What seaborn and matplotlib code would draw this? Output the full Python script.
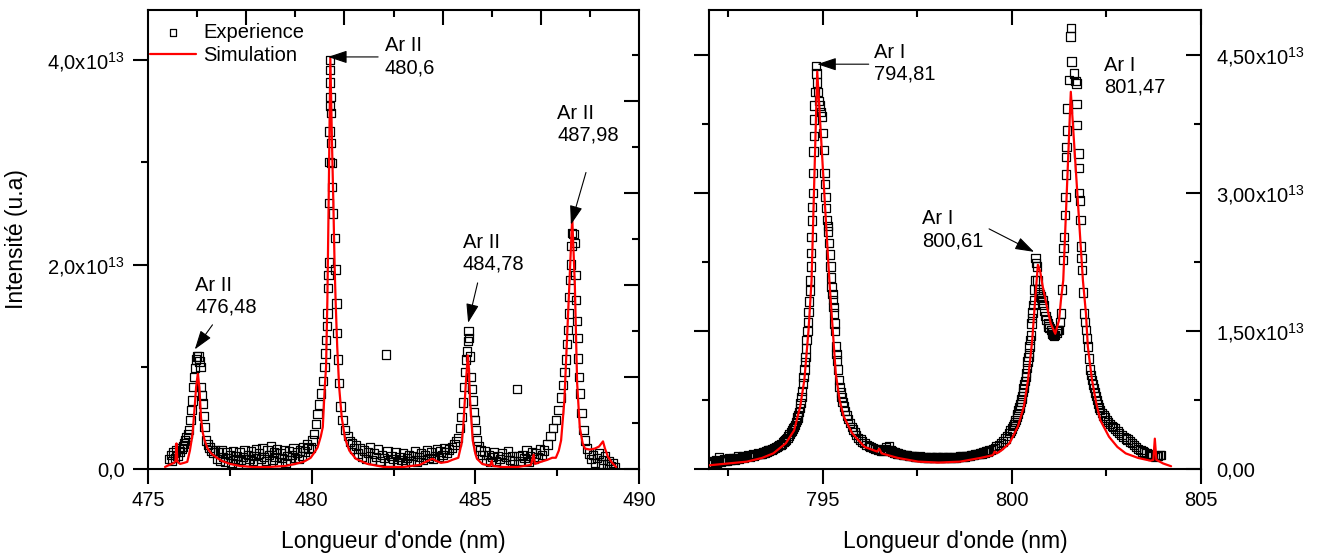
import matplotlib
matplotlib.use("Agg")
import matplotlib.pyplot as plt
import seaborn as sns
import pandas as pd
from matplotlib.ticker import FixedLocator, FixedFormatter, NullFormatter

SCALE = 1e13  # intensities below are in units of 1e13

# ---------------- Left panel (Ar II lines) ----------------
left_exp_x = [475.66, 475.70, 475.74, 475.78, 475.82, 475.86, 475.90, 475.94, 475.98,
              476.02, 476.06, 476.10, 476.14, 476.18, 476.22, 476.26, 476.30, 476.33, 476.36,
              476.39, 476.41, 476.44, 476.47, 476.50, 476.54, 476.57, 476.60, 476.62, 476.65,
              476.68, 476.70, 476.73, 476.78, 476.83, 476.88, 476.94, 477.00, 477.05, 477.10,
              477.15, 477.20, 477.25, 477.30, 477.35, 477.40, 477.45, 477.50, 477.55, 477.60,
              477.65, 477.70, 477.75, 477.80, 477.85, 477.90, 477.95, 478.00, 478.05, 478.10,
              478.15, 478.20, 478.25, 478.30, 478.35, 478.40, 478.45, 478.50, 478.55, 478.60,
              478.65, 478.70, 478.75, 478.80, 478.85, 478.90, 478.95, 479.00, 479.05, 479.10,
              479.15, 479.20, 479.25, 479.30, 479.35, 479.40, 479.45, 479.50, 479.55, 479.60,
              479.65, 479.70, 479.75, 479.80, 479.85, 479.90, 479.97, 480.03, 480.08, 480.13,
              480.18, 480.23, 480.29, 480.34, 480.39, 480.42, 480.44, 480.46, 480.48, 480.50,
              480.51, 480.52, 480.53, 480.54, 480.545, 480.55, 480.555, 480.56, 480.57, 480.58,
              480.59, 480.60, 480.61, 480.63, 480.66, 480.71, 480.73, 480.76, 480.78, 480.81,
              480.84, 480.88, 480.94, 481.02, 481.10, 481.17, 481.23, 481.30, 481.36, 481.42,
              481.48, 481.54, 481.60, 481.66, 481.72, 481.78, 481.84, 481.90, 481.96, 482.02,
              482.08, 482.14, 482.20, 482.27, 482.32, 482.38, 482.44, 482.50, 482.56, 482.62,
              482.68, 482.74, 482.80, 482.86, 482.92, 482.98, 483.04, 483.10, 483.16, 483.22,
              483.28, 483.34, 483.40, 483.46, 483.52, 483.58, 483.64, 483.70, 483.76, 483.82,
              483.88, 483.94, 484.00, 484.06, 484.12, 484.20, 484.28, 484.36, 484.42, 484.48,
              484.54, 484.58, 484.62, 484.66, 484.69, 484.71, 484.74, 484.77, 484.79, 484.81,
              484.84, 484.87, 484.90, 484.93, 484.96, 484.98, 485.02, 485.05, 485.10, 485.16,
              485.22, 485.28, 485.34, 485.40, 485.46, 485.52, 485.58, 485.64, 485.70, 485.76,
              485.82, 485.88, 485.94, 486.00, 486.06, 486.12, 486.18, 486.27, 486.32, 486.38,
              486.44, 486.50, 486.56, 486.62, 486.68, 486.74, 486.80, 486.86, 486.92, 486.98,
              487.04, 487.10, 487.20, 487.30, 487.38, 487.46, 487.54, 487.62, 487.68, 487.72,
              487.76, 487.80, 487.83, 487.86, 487.88, 487.90, 487.92, 487.94, 487.96, 488.00,
              488.04, 488.06, 488.08, 488.10, 488.12, 488.14, 488.17, 488.20, 488.24, 488.30,
              488.36, 488.42, 488.48, 488.54, 488.60, 488.66, 488.72, 488.78, 488.84, 488.90,
              488.96, 489.02, 489.08, 489.14, 489.20, 489.26]
left_exp_y = [0.10, 0.14, 0.08, 0.16, 0.11, 0.18, 0.13, 0.20, 0.17,
              0.20, 0.22, 0.25, 0.28, 0.31, 0.34, 0.38, 0.48, 0.58, 0.67,
              0.80, 0.90, 0.99, 1.07, 1.10, 1.10, 1.05, 1.00, 0.80, 0.72,
              0.64, 0.52, 0.41, 0.28, 0.24, 0.21, 0.18, 0.16, 0.18, 0.10,
              0.16, 0.08, 0.18, 0.12, 0.07, 0.16, 0.11, 0.14, 0.06, 0.17,
              0.10, 0.13, 0.05, 0.16, 0.09, 0.12, 0.18, 0.07, 0.14, 0.10,
              0.17, 0.08, 0.13, 0.19, 0.06, 0.15, 0.10, 0.20, 0.12, 0.08,
              0.18, 0.14, 0.22, 0.09, 0.16, 0.12, 0.19, 0.07, 0.15, 0.11,
              0.18, 0.06, 0.13, 0.17, 0.09, 0.14, 0.20, 0.11, 0.16, 0.10,
              0.18, 0.13, 0.21, 0.17, 0.24, 0.20, 0.21, 0.28, 0.34, 0.44,
              0.54, 0.63, 0.74, 0.86, 1.00, 1.13, 1.26, 1.40, 1.52, 1.77,
              1.90, 2.02, 2.60, 3.00, 3.30, 3.55, 3.78, 4.00, 3.90, 3.64,
              3.48, 3.19, 2.99, 2.76, 2.50, 2.26, 1.95, 1.62, 1.33, 1.07,
              0.84, 0.61, 0.48, 0.38, 0.32, 0.27, 0.25, 0.20, 0.23, 0.15,
              0.20, 0.12, 0.18, 0.10, 0.16, 0.21, 0.09, 0.15, 0.12, 0.19,
              0.08, 0.14, 0.11, 1.12, 0.17, 0.07, 0.13, 0.10, 0.16, 0.06,
              0.12, 0.09, 0.15, 0.05, 0.11, 0.14, 0.08, 0.13, 0.17, 0.07,
              0.12, 0.15, 0.09, 0.14, 0.18, 0.11, 0.16, 0.10, 0.13, 0.19,
              0.12, 0.17, 0.14, 0.20, 0.16, 0.19, 0.21, 0.24, 0.27, 0.30,
              0.40, 0.51, 0.65, 0.80, 0.95, 1.07, 1.15, 1.25, 1.35, 1.28,
              1.10, 0.90, 0.78, 0.67, 0.56, 0.48, 0.38, 0.28, 0.22, 0.18,
              0.14, 0.17, 0.09, 0.14, 0.07, 0.12, 0.16, 0.08, 0.13, 0.10,
              0.15, 0.06, 0.12, 0.17, 0.09, 0.13, 0.08, 0.78, 0.13, 0.08,
              0.14, 0.11, 0.18, 0.07, 0.13, 0.16, 0.10, 0.15, 0.12, 0.19,
              0.14, 0.18, 0.24, 0.32, 0.40, 0.48, 0.58, 0.70, 0.82, 0.95,
              1.07, 1.22, 1.36, 1.52, 1.68, 1.85, 2.00, 2.18, 2.31, 2.30,
              2.21, 1.90, 1.65, 1.45, 1.28, 1.08, 0.90, 0.74, 0.55, 0.38,
              0.28, 0.20, 0.15, 0.10, 0.14, 0.06, 0.11, 0.15, 0.05, 0.09,
              0.13, 0.05, 0.08, 0.03, 0.06, 0.02]

left_sim_x = [475.52, 475.65, 475.80, 475.84, 475.87, 475.90, 475.98, 476.10, 476.20,
              476.28, 476.36, 476.42, 476.47, 476.52, 476.57, 476.62, 476.67, 476.73, 476.82,
              476.94, 477.10, 477.25, 477.50, 477.80, 478.20, 478.70, 479.20, 479.50, 479.75,
              479.92, 479.97, 480.08, 480.18, 480.28, 480.34, 480.40, 480.44, 480.48, 480.52,
              480.57, 480.62, 480.66, 480.70, 480.73, 480.78, 480.84, 480.92, 481.02, 481.15,
              481.35, 481.70, 482.20, 482.80, 483.30, 483.55, 483.69, 483.80, 483.95, 484.15,
              484.30, 484.48, 484.58, 484.63, 484.71, 484.77, 484.80, 484.84, 484.92, 485.00,
              485.05, 485.21, 485.45, 485.50, 485.54, 485.80, 486.30, 486.70, 486.78, 486.82,
              487.00, 487.20, 487.35, 487.46, 487.55, 487.62, 487.72, 487.83, 487.96, 488.04,
              488.11, 488.19, 488.28, 488.35, 488.50, 488.65, 488.78, 488.90, 488.96, 489.05,
              489.18, 489.30]
left_sim_y = [0.02, 0.04, 0.06, 0.08, 0.25, 0.07, 0.05, 0.06, 0.07,
              0.18, 0.34, 0.58, 0.80, 0.93, 0.80, 0.50, 0.36, 0.28, 0.20,
              0.15, 0.11, 0.08, 0.05, 0.03, 0.02, 0.02, 0.03, 0.05, 0.07,
              0.10, 0.11, 0.16, 0.21, 0.32, 0.41, 0.80, 1.00, 1.66, 2.64,
              4.02, 3.20, 2.64, 2.00, 1.66, 1.20, 0.80, 0.50, 0.30, 0.18,
              0.10, 0.05, 0.02, 0.02, 0.04, 0.08, 0.10, 0.08, 0.06, 0.07,
              0.09, 0.11, 0.25, 0.41, 0.84, 1.11, 1.00, 0.67, 0.28, 0.15,
              0.10, 0.05, 0.03, 0.08, 0.03, 0.02, 0.02, 0.04, 0.14, 0.05,
              0.07, 0.09, 0.11, 0.11, 0.18, 0.28, 0.67, 1.49, 2.46, 1.80,
              0.84, 0.41, 0.25, 0.20, 0.19, 0.20, 0.22, 0.27, 0.20, 0.12,
              0.06, 0.02]

# ---------------- Right panel (Ar I lines) ----------------
right_exp_x = [792.00, 792.03, 792.06, 792.09, 792.12, 792.15, 792.18, 792.21, 792.24, 792.27,
               792.30, 792.34, 792.37, 792.40, 792.43, 792.46, 792.49, 792.52, 792.55, 792.58,
               792.61, 792.64, 792.67, 792.70, 792.73, 792.77, 792.80, 792.84, 792.87, 792.90,
               792.93, 792.96, 793.00, 793.04, 793.07, 793.10, 793.13, 793.16, 793.19, 793.22,
               793.26, 793.30, 793.33, 793.36, 793.40, 793.44, 793.47, 793.50, 793.53, 793.56,
               793.59, 793.62, 793.65, 793.68, 793.71, 793.74, 793.77, 793.80, 793.83, 793.86,
               793.89, 793.92, 793.95, 793.98, 794.01, 794.04, 794.07, 794.10, 794.13, 794.16,
               794.19, 794.22, 794.25, 794.27, 794.30, 794.32, 794.34, 794.36, 794.38, 794.40,
               794.42, 794.44, 794.46, 794.48, 794.50, 794.52, 794.54, 794.55, 794.57, 794.58,
               794.60, 794.61, 794.63, 794.64, 794.66, 794.67, 794.69, 794.70, 794.71, 794.72,
               794.73, 794.74, 794.75, 794.76, 794.77, 794.78, 794.79, 794.80, 794.82, 794.84,
               794.86, 794.88, 794.90, 794.93, 794.96, 794.99, 795.01, 795.03, 795.05, 795.07,
               795.08, 795.10, 795.12, 795.14, 795.15, 795.17, 795.19, 795.21, 795.23, 795.24,
               795.26, 795.27, 795.29, 795.30, 795.32, 795.33, 795.35, 795.37, 795.38, 795.40,
               795.43, 795.45, 795.48, 795.50, 795.53, 795.56, 795.60, 795.64, 795.68, 795.73,
               795.77, 795.81, 795.85, 795.89, 795.94, 796.00, 796.05, 796.11, 796.16, 796.22,
               796.27, 796.33, 796.38, 796.44, 796.48, 796.52, 796.56, 796.60, 796.64, 796.68,
               796.72, 796.76, 796.80, 796.84, 796.88, 796.92, 796.96, 797.00, 797.04, 797.08,
               797.12, 797.16, 797.20, 797.24, 797.28, 797.32, 797.36, 797.40, 797.44, 797.48,
               797.52, 797.56, 797.60, 797.64, 797.68, 797.72, 797.76, 797.80, 797.84, 797.88,
               797.92, 797.96, 798.00, 798.04, 798.08, 798.12, 798.16, 798.20, 798.24, 798.28,
               798.32, 798.36, 798.40, 798.44, 798.48, 798.52, 798.56, 798.60, 798.64, 798.68,
               798.72, 798.76, 798.80, 798.84, 798.88, 798.92, 798.96, 799.00, 799.04, 799.08,
               799.12, 799.16, 799.20, 799.24, 799.28, 799.32, 799.36, 799.40, 799.45, 799.50,
               799.55, 799.60, 799.66, 799.72, 799.77, 799.83, 799.88, 799.94, 799.97, 800.00,
               800.03, 800.06, 800.08, 800.10, 800.13, 800.15, 800.18, 800.20, 800.22, 800.24,
               800.26, 800.27, 800.29, 800.31, 800.33, 800.35, 800.37, 800.38, 800.40, 800.42,
               800.44, 800.45, 800.47, 800.49, 800.50, 800.52, 800.54, 800.55, 800.57, 800.58,
               800.60, 800.62, 800.63, 800.64, 800.66, 800.68, 800.70, 800.72, 800.74, 800.76,
               800.78, 800.81, 800.84, 800.86, 800.89, 800.92, 800.95, 800.97, 801.00, 801.03,
               801.06, 801.08, 801.10, 801.12, 801.15, 801.18, 801.20, 801.23, 801.25, 801.28,
               801.30, 801.33, 801.35, 801.37, 801.38, 801.40, 801.42, 801.43, 801.44, 801.45,
               801.46, 801.47, 801.51, 801.55, 801.56, 801.58, 801.64, 801.68, 801.71, 801.71,
               801.73, 801.76, 801.77, 801.78, 801.80, 801.82, 801.83, 801.84, 801.86, 801.88,
               801.91, 801.94, 801.96, 801.99, 802.01, 802.04, 802.07, 802.10, 802.12, 802.15,
               802.17, 802.20, 802.23, 802.26, 802.28, 802.31, 802.34, 802.38, 802.42, 802.46,
               802.50, 802.55, 802.59, 802.64, 802.68, 802.73, 802.79, 802.84, 802.90, 802.95,
               803.01, 803.06, 803.12, 803.17, 803.23, 803.28, 803.34, 803.40, 803.45, 803.50,
               803.56, 803.62, 803.67, 803.72, 803.78, 803.82, 803.86, 803.90, 803.94]
right_exp_y = [0.06, 0.05, 0.09, 0.06, 0.07, 0.08, 0.10, 0.07, 0.08, 0.13,
               0.08, 0.09, 0.10, 0.11, 0.09, 0.09, 0.10, 0.12, 0.10, 0.10,
               0.11, 0.12, 0.10, 0.11, 0.12, 0.14, 0.11, 0.12, 0.13, 0.14,
               0.12, 0.13, 0.14, 0.15, 0.13, 0.14, 0.15, 0.16, 0.14, 0.15,
               0.16, 0.17, 0.16, 0.16, 0.17, 0.18, 0.18, 0.19, 0.19, 0.20,
               0.20, 0.21, 0.21, 0.22, 0.23, 0.23, 0.24, 0.24, 0.25, 0.26,
               0.26, 0.27, 0.29, 0.30, 0.31, 0.32, 0.34, 0.36, 0.38, 0.40,
               0.42, 0.44, 0.46, 0.48, 0.51, 0.53, 0.56, 0.59, 0.62, 0.66,
               0.72, 0.78, 0.85, 0.93, 1.00, 1.08, 1.16, 1.22, 1.31, 1.40,
               1.50, 1.60, 1.71, 1.82, 1.94, 2.05, 2.20, 2.35, 2.52, 2.70,
               2.85, 3.00, 3.22, 3.45, 3.62, 3.80, 3.95, 4.10, 4.38, 4.30,
               4.20, 4.10, 4.00, 3.95, 3.88, 3.83, 3.65, 3.47, 3.22, 3.10,
               2.96, 2.84, 2.71, 2.64, 2.58, 2.46, 2.33, 2.20, 2.08, 1.98,
               1.90, 1.84, 1.76, 1.69, 1.58, 1.50, 1.33, 1.25, 1.18, 1.08,
               0.97, 0.89, 0.83, 0.78, 0.73, 0.68, 0.63, 0.58, 0.54, 0.50,
               0.46, 0.43, 0.40, 0.37, 0.34, 0.32, 0.30, 0.28, 0.26, 0.25,
               0.24, 0.23, 0.22, 0.22, 0.21, 0.21, 0.20, 0.20, 0.22, 0.24,
               0.21, 0.25, 0.20, 0.19, 0.18, 0.18, 0.17, 0.17, 0.16, 0.16,
               0.15, 0.15, 0.15, 0.15, 0.14, 0.14, 0.14, 0.14, 0.13, 0.13,
               0.13, 0.14, 0.13, 0.13, 0.12, 0.13, 0.12, 0.12, 0.13, 0.13,
               0.12, 0.12, 0.13, 0.13, 0.12, 0.12, 0.13, 0.13, 0.12, 0.12,
               0.13, 0.13, 0.12, 0.13, 0.12, 0.12, 0.13, 0.13, 0.14, 0.14,
               0.13, 0.13, 0.14, 0.14, 0.14, 0.15, 0.15, 0.15, 0.16, 0.16,
               0.16, 0.17, 0.17, 0.18, 0.18, 0.19, 0.19, 0.20, 0.21, 0.22,
               0.23, 0.25, 0.26, 0.28, 0.30, 0.33, 0.36, 0.39, 0.42, 0.44,
               0.47, 0.49, 0.51, 0.53, 0.57, 0.60, 0.64, 0.67, 0.70, 0.73,
               0.76, 0.79, 0.84, 0.88, 0.92, 0.96, 1.00, 1.04, 1.10, 1.17,
               1.22, 1.26, 1.33, 1.40, 1.45, 1.58, 1.64, 1.70, 1.78, 1.84,
               1.95, 2.05, 2.29, 2.24, 2.20, 2.05, 1.95, 1.92, 1.90, 1.88,
               1.86, 1.84, 1.78, 1.72, 1.66, 1.62, 1.58, 1.55, 1.53, 1.51,
               1.49, 1.47, 1.46, 1.45, 1.46, 1.48, 1.50, 1.51, 1.51, 1.60,
               1.69, 1.95, 2.27, 2.40, 2.52, 2.76, 2.96, 3.20, 3.39, 3.50,
               3.68, 3.92, 4.23, 4.70, 4.79, 4.43, 4.30, 4.22, 4.19, 3.97,
               3.74, 3.43, 3.27, 3.00, 2.92, 2.71, 2.42, 2.29, 2.16, 1.92,
               1.69, 1.60, 1.51, 1.42, 1.33, 1.20, 1.08, 1.02, 0.97, 0.92,
               0.88, 0.83, 0.79, 0.75, 0.71, 0.67, 0.64, 0.61, 0.58, 0.56,
               0.53, 0.51, 0.49, 0.47, 0.46, 0.44, 0.41, 0.39, 0.37, 0.35,
               0.33, 0.32, 0.30, 0.28, 0.26, 0.24, 0.22, 0.21, 0.19, 0.18,
               0.17, 0.16, 0.15, 0.14, 0.13, 0.14, 0.14, 0.15, 0.15]

right_sim_x = [792.00, 792.50, 793.00, 793.40, 793.70, 794.03, 794.25, 794.41, 794.52, 794.63,
               794.71, 794.86, 795.18, 795.24, 795.30, 795.35, 795.45, 795.56, 795.78, 796.11,
               796.44, 796.50, 796.56, 796.99, 797.53, 798.07, 798.63, 799.17, 799.50, 799.55,
               799.60, 799.72, 799.94, 800.16, 800.32, 800.43, 800.54, 800.62, 800.69, 800.75,
               800.81, 800.92, 801.03, 801.15, 801.25, 801.30, 801.36, 801.56, 801.88, 801.96,
               802.01, 802.07, 802.12, 802.23, 802.34, 802.57, 802.79, 803.01, 803.34, 803.67,
               803.74, 803.78, 803.82, 804.00, 804.21]
right_sim_y = [0.04, 0.06, 0.08, 0.12, 0.17, 0.28, 0.42, 0.68, 0.97, 1.51,
               2.05, 4.32, 2.05, 1.69, 1.33, 1.04, 0.75, 0.57, 0.39, 0.24,
               0.19, 0.22, 0.17, 0.12, 0.08, 0.07, 0.08, 0.12, 0.15, 0.19,
               0.17, 0.20, 0.28, 0.46, 0.68, 0.97, 1.40, 1.85, 2.22, 2.15,
               2.00, 1.78, 1.58, 1.47, 1.62, 1.84, 2.05, 4.10, 2.05, 1.69,
               1.33, 1.13, 0.97, 0.72, 0.53, 0.35, 0.24, 0.17, 0.12, 0.09,
               0.10, 0.33, 0.10, 0.06, 0.03]

# ---------------- Ticks / labels ----------------
left_xticks = [475, 480, 485, 490]
left_xminor = [477.5, 482.5, 487.5]
left_top_major = [478, 481, 484, 487]
left_top_minor = [476.5, 479.5, 482.5, 485.5, 488.5]
left_yticks = [0, 2, 4]
left_yminor = [1, 3]
left_ytick_labels = ["0,0", "2,0x10$^{13}$", "4,0x10$^{13}$"]
right_xticks = [795, 800, 805]
right_xminor = [792.5, 797.5, 802.5]
right_yticks = [0, 1.5, 3.0, 4.5]
right_yminor = [0.75, 2.25, 3.75]
right_ytick_labels = ["0,00", "1,50x10$^{13}$", "3,00x10$^{13}$", "4,50x10$^{13}$"]
secondary_yticks = [0, 1, 2, 3, 4]
secondary_yminor = [0.5, 1.5, 2.5, 3.5, 4.5]

xlabel = "Longueur d'onde (nm)"
ylabel = "Intensité (u.a)"
legend_labels = ["Experience", "Simulation"]

# ---------------- Style ----------------
sns.set_style("ticks")
plt.rcParams["font.family"] = ["Liberation Sans", "DejaVu Sans"]
plt.rcParams["mathtext.fontset"] = "custom"
plt.rcParams["mathtext.rm"] = "Liberation Sans"
plt.rcParams["mathtext.it"] = "Liberation Sans:italic"
plt.rcParams["mathtext.bf"] = "Liberation Sans:bold"
plt.rcParams["mathtext.default"] = "regular"
for key in ("text.color", "axes.labelcolor", "xtick.color", "ytick.color",
            "axes.edgecolor", "xtick.labelcolor", "ytick.labelcolor"):
    plt.rcParams[key] = "black"

FS = 14.5
FS_LAB = 16.5
W, H = 1317, 559
fig = plt.figure(figsize=(W / 100, H / 100), dpi=100)
fig.patch.set_facecolor("white")

axL = fig.add_axes([148 / W, (H - 469) / H, (639 - 148) / W, (469 - 10) / H])
axR = fig.add_axes([709 / W, (H - 469) / H, (1201 - 709) / W, (469 - 10) / H])

SPINE_W = 1.5
MAJ_L, MIN_L = 10.5, 5.0

df_le = pd.DataFrame({"x": left_exp_x, "y": [v * SCALE for v in left_exp_y]})
df_ls = pd.DataFrame({"x": left_sim_x, "y": [v * SCALE for v in left_sim_y]})
df_re = pd.DataFrame({"x": right_exp_x, "y": [v * SCALE for v in right_exp_y]})
df_rs = pd.DataFrame({"x": right_sim_x, "y": [v * SCALE for v in right_sim_y]})

marker_kw = dict(marker="s", s=36, facecolor="none", edgecolor="black", linewidth=0.9, zorder=3)
line_kw = dict(color="#ff0000", linewidth=1.6, sort=False, estimator=None, zorder=4)

sns.scatterplot(data=df_le, x="x", y="y", ax=axL, label=legend_labels[0], **marker_kw)
sns.lineplot(data=df_ls, x="x", y="y", ax=axL, label=legend_labels[1], **line_kw)
sns.scatterplot(data=df_re, x="x", y="y", ax=axR, legend=False, **marker_kw)
sns.lineplot(data=df_rs, x="x", y="y", ax=axR, legend=False, **line_kw)


def style_axes(ax, xlim, ylim, xt, xm, yt, ym, ylabels, show_ylabels):
    ax.set_xlim(*xlim)
    ax.set_ylim(*ylim)
    for s in ax.spines.values():
        s.set_visible(True)
        s.set_linewidth(SPINE_W)
        s.set_color("black")
    ax.xaxis.set_major_locator(FixedLocator(xt))
    ax.xaxis.set_minor_locator(FixedLocator(xm))
    ax.xaxis.set_major_formatter(FixedFormatter([f"{v:g}" for v in xt]))
    ax.yaxis.set_major_locator(FixedLocator([v * SCALE for v in yt]))
    ax.yaxis.set_minor_locator(FixedLocator([v * SCALE for v in ym]))
    if show_ylabels:
        ax.yaxis.set_major_formatter(FixedFormatter(ylabels))
    else:
        ax.yaxis.set_major_formatter(NullFormatter())
    ax.tick_params(axis="both", which="both", direction="out", width=SPINE_W,
                   labelsize=FS, top=False, right=False, colors="black")
    ax.tick_params(axis="both", which="major", length=MAJ_L)
    ax.tick_params(axis="both", which="minor", length=MIN_L)
    ax.tick_params(axis="x", which="major", pad=5)
    ax.tick_params(axis="y", which="major", pad=6)
    ax.set_xlabel(xlabel, fontsize=FS_LAB, labelpad=15)
    ax.set_ylabel("")


style_axes(axL, (475, 490), (0, 4.489 * SCALE), left_xticks, left_xminor,
           left_yticks, left_yminor, left_ytick_labels, True)
style_axes(axR, (792, 805), (0, 4.989 * SCALE), right_xticks, right_xminor,
           right_yticks, right_yminor, right_ytick_labels, False)
axL.set_ylabel(ylabel, fontsize=FS_LAB, labelpad=14)


def inward_twins(ax, top_major, top_minor, ylim_r, r_major, r_minor, rlabels=None):
    tx = ax.twiny()
    tx.set_xlim(ax.get_xlim())
    tx.xaxis.set_major_locator(FixedLocator(top_major))
    tx.xaxis.set_minor_locator(FixedLocator(top_minor))
    tx.xaxis.set_major_formatter(NullFormatter())
    tx.tick_params(axis="x", which="both", direction="in", width=SPINE_W,
                   top=True, bottom=False, labeltop=False, colors="black")
    tx.tick_params(axis="x", which="major", length=MAJ_L)
    tx.tick_params(axis="x", which="minor", length=MIN_L)
    for s in tx.spines.values():
        s.set_visible(False)

    ty = ax.twinx()
    ty.set_ylim(*ylim_r)
    ty.yaxis.set_major_locator(FixedLocator([v * SCALE for v in r_major]))
    ty.yaxis.set_minor_locator(FixedLocator([v * SCALE for v in r_minor]))
    if rlabels is None:
        ty.yaxis.set_major_formatter(NullFormatter())
    else:
        ty.yaxis.set_major_formatter(FixedFormatter(rlabels))
    ty.tick_params(axis="y", which="both", direction="in", width=SPINE_W,
                   right=True, left=False, labelright=rlabels is not None,
                   labelsize=FS, pad=11, colors="black")
    ty.tick_params(axis="y", which="major", length=MAJ_L)
    ty.tick_params(axis="y", which="minor", length=MIN_L)
    for s in ty.spines.values():
        s.set_visible(False)
    ty.grid(False)
    tx.grid(False)
    return tx, ty


inward_twins(axL, left_top_major, left_top_minor, (0, 4.989 * SCALE),
             secondary_yticks, secondary_yminor)
inward_twins(axR, right_xticks, right_xminor, (0, 4.989 * SCALE),
             right_yticks, right_yminor, right_ytick_labels)

# ---------------- Annotations ----------------
arrow_kw = dict(arrowstyle="-|>,head_length=0.9,head_width=0.3", color="black",
                lw=0.8, shrinkA=0, shrinkB=0, mutation_scale=13)
left_notes = [
    ("Ar II\n476,48", (476.45, 1.69), (476.97, 1.41), (476.43, 1.17)),
    ("Ar II\n480,6", (482.24, 4.03), (482.03, 4.03), (480.50, 4.03)),
    ("Ar II\n484,78", (484.62, 2.11), (485.07, 1.82), (484.78, 1.43)),
    ("Ar II\n487,98", (487.50, 3.37), (488.38, 2.90), (487.92, 2.39)),
]
right_notes = [
    ("Ar I\n794,81", (796.35, 4.41), (796.22, 4.40), (794.86, 4.40)),
    ("Ar I\n800,61", (797.62, 2.60), (799.40, 2.61), (800.59, 2.36)),
    ("Ar I\n801,47", (802.45, 4.27), None, None),
]
for ax, notes in ((axL, left_notes), (axR, right_notes)):
    for txt, pos, tail, tip in notes:
        ax.text(pos[0], pos[1] * SCALE, txt, ha="left", va="center",
                fontsize=FS, linespacing=1.2, zorder=6)
        if tail is not None:
            ax.annotate("", xy=(tip[0], tip[1] * SCALE),
                        xytext=(tail[0], tail[1] * SCALE),
                        arrowprops=arrow_kw, zorder=6)

# ---------------- Legend ----------------
handles, labels = axL.get_legend_handles_labels()
leg = axL.legend(handles, labels, loc="upper left", bbox_to_anchor=(0.004, 0.972),
                 frameon=False, fontsize=FS, handlelength=2.3, handletextpad=0.35,
                 labelspacing=0.2, borderaxespad=0.0, borderpad=0.0, markerscale=0.75)

fig.savefig("out.png", dpi=100, facecolor="white")
